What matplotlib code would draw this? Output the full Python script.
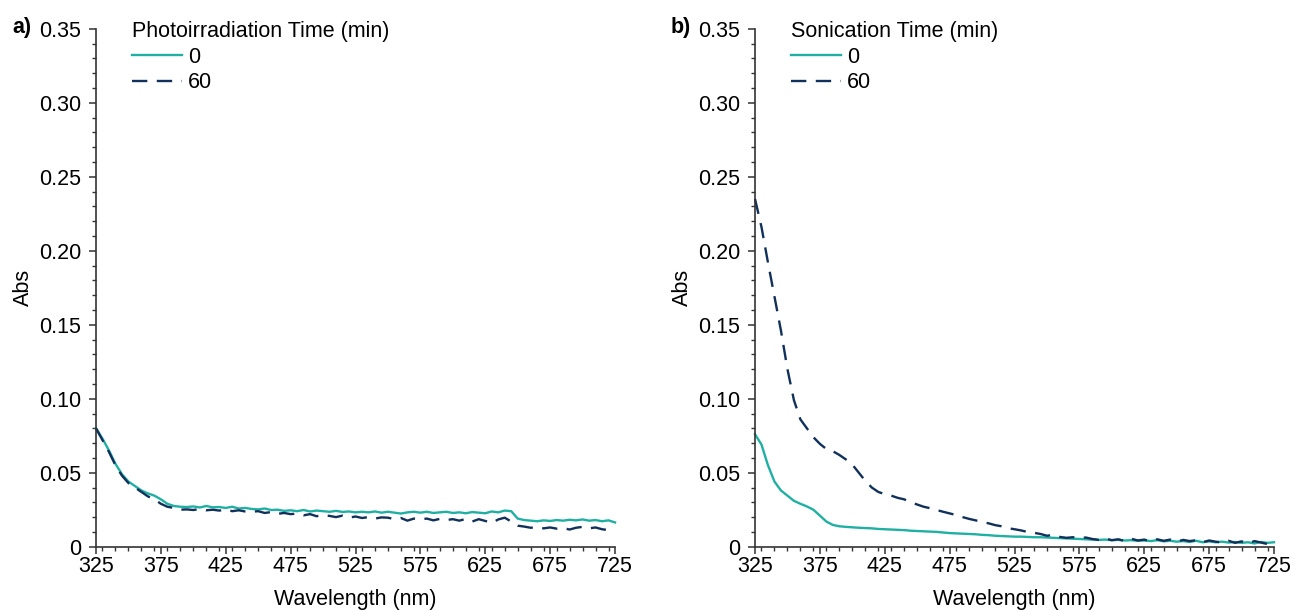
import numpy as np
import matplotlib
matplotlib.use("Agg")
import matplotlib.pyplot as plt
from matplotlib.ticker import MultipleLocator, FuncFormatter

plt.rcParams['font.family'] = ['Liberation Sans', 'DejaVu Sans']

wavelength = list(range(325, 730, 5))

a_0min = [0.080, 0.073, 0.065, 0.056, 0.049, 0.044, 0.041, 0.038, 0.036, 0.0345,
          0.032, 0.029, 0.0275, 0.027, 0.0268, 0.0272, 0.0265, 0.0275, 0.0266, 0.0268,
          0.0262, 0.0270, 0.0258, 0.0262, 0.0255, 0.0252, 0.0258, 0.0248, 0.0250, 0.0242,
          0.0246, 0.0240, 0.0248, 0.0238, 0.0244, 0.0240, 0.0236, 0.0242, 0.0235, 0.0238,
          0.0232, 0.0236, 0.0232, 0.0238, 0.0230, 0.0236, 0.0230, 0.0224, 0.0232, 0.0236,
          0.0230, 0.0236, 0.0228, 0.0232, 0.0236, 0.0228, 0.0232, 0.0226, 0.0234, 0.0230,
          0.0226, 0.0238, 0.0232, 0.0244, 0.0240, 0.0190, 0.0180, 0.0176, 0.0172, 0.0178,
          0.0174, 0.0180, 0.0176, 0.0182, 0.0178, 0.0184, 0.0176, 0.0180, 0.0172, 0.0178,
          0.0164]

a_60min = [0.080, 0.072, 0.064, 0.055, 0.048, 0.043, 0.040, 0.037, 0.034, 0.032,
           0.029, 0.027, 0.0262, 0.025, 0.0252, 0.0248, 0.0255, 0.0246, 0.0250, 0.0244,
           0.0252, 0.0240, 0.0246, 0.0238, 0.0236, 0.0240, 0.0228, 0.0234, 0.0222, 0.0228,
           0.0220, 0.0224, 0.0212, 0.0220, 0.0206, 0.0214, 0.0208, 0.0200, 0.0210, 0.0196,
           0.0204, 0.0194, 0.0200, 0.0190, 0.0198, 0.0196, 0.0186, 0.0194, 0.0176, 0.0190,
           0.0184, 0.0190, 0.0178, 0.0188, 0.0180, 0.0186, 0.0176, 0.0188, 0.0170, 0.0186,
           0.0174, 0.0160, 0.0184, 0.0196, 0.0170, 0.0142, 0.0136, 0.0128, 0.0132, 0.0124,
           0.0130, 0.0122, 0.0126, 0.0116, 0.0128, 0.0134, 0.0124, 0.0130, 0.0118, 0.0112,
           0.0098]

b_0min = [0.076, 0.069, 0.055, 0.044, 0.038, 0.0345, 0.031, 0.0290, 0.0272, 0.0250,
          0.0210, 0.0170, 0.0147, 0.0138, 0.0134, 0.0131, 0.0128, 0.0126, 0.0124, 0.0120,
          0.0118, 0.0116, 0.0114, 0.0112, 0.0108, 0.0106, 0.0104, 0.0102, 0.0100, 0.0096,
          0.0092, 0.0090, 0.0088, 0.0086, 0.0084, 0.0080, 0.0078, 0.0074, 0.0072, 0.0070,
          0.0068, 0.0068, 0.0066, 0.0064, 0.0064, 0.0062, 0.0060, 0.0058, 0.0056, 0.0054,
          0.0052, 0.0050, 0.0048, 0.0046, 0.0048, 0.0044, 0.0046, 0.0042, 0.0044, 0.0040,
          0.0042, 0.0038, 0.0044, 0.0036, 0.0040, 0.0034, 0.0038, 0.0032, 0.0040, 0.0030,
          0.0036, 0.0030, 0.0034, 0.0028, 0.0032, 0.0026, 0.0030, 0.0022, 0.0032, 0.0026,
          0.0030]

b_60min = [0.235, 0.216, 0.192, 0.169, 0.146, 0.120, 0.099, 0.086, 0.080, 0.074,
           0.0695, 0.066, 0.0645, 0.062, 0.059, 0.0555, 0.050, 0.0445, 0.040, 0.037,
           0.0355, 0.0345, 0.033, 0.032, 0.030, 0.0285, 0.0270, 0.0260, 0.0248, 0.0236,
           0.0225, 0.0214, 0.0200, 0.0188, 0.0178, 0.0168, 0.0158, 0.0146, 0.0138, 0.0125,
           0.0118, 0.0110, 0.0100, 0.0094, 0.0086, 0.0074, 0.0080, 0.0066, 0.0060, 0.0064,
           0.0058, 0.0062, 0.0052, 0.0046, 0.0056, 0.0044, 0.0050, 0.0038, 0.0054, 0.0042,
           0.0048, 0.0036, 0.0050, 0.0040, 0.0048, 0.0034, 0.0046, 0.0038, 0.0044, 0.0030,
           0.0042, 0.0034, 0.0028, 0.0040, 0.0026, 0.0036, 0.0022, 0.0038, 0.0028, 0.0018,
           0.0034]

series_labels = ["0", "60"]
legend_titles = ["Photoirradiation Time (min)", "Sonication Time (min)"]
panel_tags = ["a)", "b)"]
x_ticks = [325, 375, 425, 475, 525, 575, 625, 675, 725]
y_ticks = [0, 0.05, 0.10, 0.15, 0.20, 0.25, 0.30, 0.35]

teal = "#20b0a3"
navy = "#11305a"
axis_col = "#333333"
FS = 15.5

fig = plt.figure(figsize=(12.93, 6.10), dpi=100)
lefts = [96 / 1293, 755 / 1293]
width = 519 / 1293
bottom = 1 - 546.7 / 610
height = (546.7 - 28.7) / 610

panels = [(a_0min, a_60min), (b_0min, b_60min)]

def yfmt(v, pos):
    return "0" if abs(v) < 1e-9 else f"{v:.2f}"

for i, (s0, s60) in enumerate(panels):
    ax = fig.add_axes([lefts[i], bottom, width, height])
    ax.plot(wavelength, s0, color=teal, lw=1.7, label=series_labels[0], clip_on=False)
    ax.plot(wavelength, s60, color=navy, lw=1.7, dashes=(6.5, 4), label=series_labels[1], clip_on=False)
    ax.set_xlim(325, 725)
    ax.set_ylim(0, 0.35)
    ax.set_xticks(x_ticks)
    ax.set_yticks(y_ticks)
    ax.xaxis.set_minor_locator(MultipleLocator(10))
    ax.yaxis.set_minor_locator(MultipleLocator(0.01))
    ax.yaxis.set_major_formatter(FuncFormatter(yfmt))
    for side in ["top", "right"]:
        ax.spines[side].set_visible(False)
    for side in ["left", "bottom"]:
        ax.spines[side].set_color(axis_col)
        ax.spines[side].set_linewidth(1.2)
    ax.tick_params(which="major", direction="out", length=5, width=1.1, color=axis_col,
                   labelsize=FS)
    ax.tick_params(axis="x", which="major", pad=2)
    ax.tick_params(axis="y", which="major", pad=5.5)
    ax.tick_params(which="minor", direction="out", length=3, width=1.0, color=axis_col)
    ax.set_xlabel("Wavelength (nm)", fontsize=FS, labelpad=8)
    ax.set_ylabel("Abs", fontsize=FS, labelpad=4)
    leg = ax.legend(title=legend_titles[i], loc="upper left", bbox_to_anchor=(0.07, 1.014),
                    frameon=False, fontsize=FS, title_fontsize=FS, handlelength=2.3,
                    handletextpad=0.28, labelspacing=0.2, borderpad=0, borderaxespad=0)
    leg._legend_box.align = "left"
    fig.text(lefts[i] - 84 / 1293, 1 - 28 / 610, panel_tags[i], fontsize=FS,
             fontweight="bold", va="center", ha="left")

fig.savefig("out.png", dpi=100)
